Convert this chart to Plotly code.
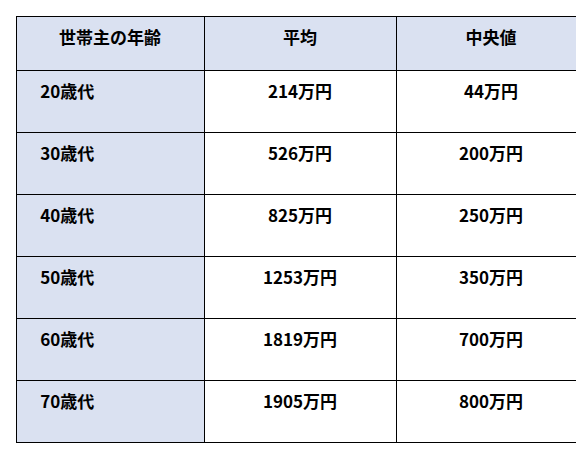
import plotly.graph_objects as go

headers = ["世帯主の年齢", "平均", "中央値"]
ages = ["20歳代", "30歳代", "40歳代", "50歳代", "60歳代", "70歳代"]
mean_vals = ["214万円", "526万円", "825万円", "1253万円", "1819万円", "1905万円"]
median_vals = ["44万円", "200万円", "250万円", "350万円", "700万円", "800万円"]

blue = "#dae1f1"
pad = "\u00a0" * 9


def fmt(s, prefix=""):
    return "<br>" + prefix + f"<span style='font-size:17px'><b>{s}</b></span>"


fig = go.Figure(go.Table(
    columnwidth=[188, 192, 190],
    header=dict(values=[fmt(h) for h in headers], fill_color=blue,
                line=dict(color="black", width=1), align="center", height=54,
                font=dict(family="Noto Sans CJK JP", size=8, color="black")),
    cells=dict(values=[[fmt(a, pad) for a in ages],
                       [fmt(v) for v in mean_vals],
                       [fmt(v) for v in median_vals]],
               fill_color=[[blue] * 6, ["white"] * 6, ["white"] * 6],
               line=dict(color="black", width=1), align=["left", "center", "center"],
               height=62, font=dict(family="Noto Sans CJK JP", size=8, color="black")),
))
fig.update_layout(width=584, height=456, margin=dict(l=8, r=6, t=8, b=8),
                  paper_bgcolor="white")
fig.write_html("out.html")
